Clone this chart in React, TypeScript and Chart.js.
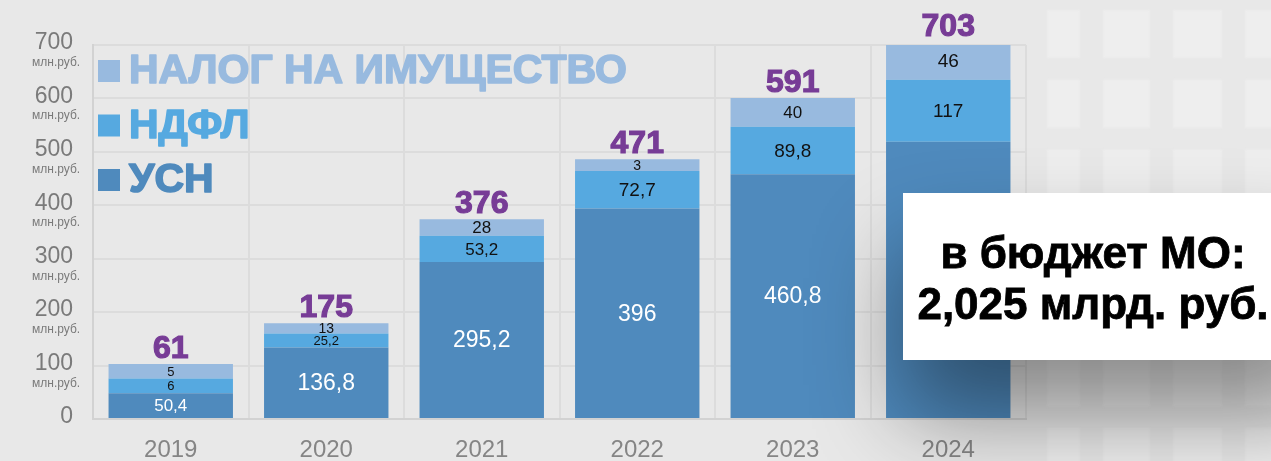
import React, { useEffect, useRef } from "react";
import { Chart, registerables } from "chart.js";

Chart.register(...registerables);

// ---- data ----
const years = ["2019", "2020", "2021", "2022", "2023", "2024"];
// segment heights as drawn in the picture (axis units)
const usnValues = [48, 134, 294, 394, 458, 519];
const ndflValues = [28, 26, 49, 70, 89, 116];
const propertyValues = [27, 19, 31, 22, 54, 71];
// printed labels
const usnLabels = ["50,4", "136,8", "295,2", "396", "460,8", ""];
const ndflLabels = ["6", "25,2", "53,2", "72,7", "89,8", "117"];
const propertyLabels = ["5", "13", "28", "3", "40", "46"];
const totalLabels = ["61", "175", "376", "471", "591", "703"];
const seriesNames = ["УСН", "НДФЛ", "НАЛОГ НА ИМУЩЕСТВО"];
const seriesColors = ["#4f8abd", "#56a9e0", "#98badf"];
const yMin = 0;
const yMax = 700;
const yStep = 100;
const unitLabel = "млн.руб.";
const boxLines = ["в бюджет МО:", "2,025 млрд. руб."];

const PURPLE = "#773c96";
const SANS = '"Liberation Sans", Arial, Helvetica, sans-serif';
const AXISFONT = '"Liberation Sans", Arial, sans-serif';

const backgroundPlugin = {
  id: "bgPattern",
  beforeDraw(chart: any) {
    const { ctx, width, height } = chart;
    ctx.save();
    ctx.fillStyle = "#e8e8e8";
    ctx.fillRect(0, 0, width, height);
    const cols = [
      [1047, 33],
      [1103, 47],
      [1173, 49],
      [1245, 47],
    ];
    ctx.fillStyle = "#eeeeee";
    ctx.filter = "blur(1px)";
    for (let r = 0; r < 7; r++) {
      const top = 10 + r * 69.7;
      for (const [cx, cw] of cols) ctx.fillRect(cx, top, cw, 48);
    }
    ctx.restore();
  },
};

const barLabelsPlugin = {
  id: "barLabels",
  afterDatasetsDraw(chart: any) {
    const ctx = chart.ctx;
    const sets = [usnLabels, ndflLabels, propertyLabels];
    ctx.save();
    ctx.textAlign = "center";
    ctx.textBaseline = "middle";
    sets.forEach((texts, di) => {
      const meta = chart.getDatasetMeta(di);
      meta.data.forEach((el: any, i: number) => {
        const text = texts[i];
        if (!text) return;
        const { x, y, base } = el.getProps(["x", "y", "base"], true);
        const h = Math.abs(base - y);
        let size: number;
        if (di === 0) size = h < 40 ? 17 : 23;
        else size = h < 13 ? 14 : h < 16 ? 13 : h < 30 ? 17 : 19;
        ctx.font = `${size}px ${SANS}`;
        ctx.fillStyle = di === 0 ? "#ffffff" : "#111111";
        ctx.fillText(text, x, (y + base) / 2 + 1);
      });
    });
    const topMeta = chart.getDatasetMeta(2);
    ctx.font = `bold 32px ${SANS}`;
    ctx.fillStyle = PURPLE;
    ctx.strokeStyle = PURPLE;
    ctx.lineWidth = 1.2;
    ctx.textBaseline = "alphabetic";
    topMeta.data.forEach((el: any, i: number) => {
      const { x, y } = el.getProps(["x", "y"], true);
      ctx.fillText(totalLabels[i], x, y - 6);
      ctx.strokeText(totalLabels[i], x, y - 6);
    });
    ctx.restore();
  },
};

const legendPlugin = {
  id: "bigLegend",
  afterDatasetsDraw(chart: any) {
    const { ctx, chartArea } = chart;
    const order = [2, 1, 0];
    ctx.save();
    ctx.font = `bold 41px ${SANS}`;
    ctx.textBaseline = "middle";
    ctx.textAlign = "left";
    ctx.lineWidth = 1.6;
    ctx.lineJoin = "round";
    order.forEach((di, k) => {
      const cy = chartArea.top + 26 + k * 54.5;
      ctx.fillStyle = seriesColors[di];
      ctx.strokeStyle = seriesColors[di];
      ctx.fillRect(chartArea.left + 5, cy - 11, 22, 22);
      ctx.fillText(seriesNames[di], chartArea.left + 36, cy + 1);
      ctx.strokeText(seriesNames[di], chartArea.left + 36, cy + 1);
    });
    ctx.restore();
  },
};

const unitsPlugin = {
  id: "yUnits",
  afterDraw(chart: any) {
    const { ctx } = chart;
    const scale = chart.scales.y;
    ctx.save();
    ctx.font = `12px ${AXISFONT}`;
    ctx.fillStyle = "#7a7a7a";
    ctx.textAlign = "left";
    ctx.textBaseline = "alphabetic";
    scale.ticks.forEach((t: any) => {
      if (t.value <= 0) return;
      const y = scale.getPixelForValue(t.value);
      ctx.fillText(unitLabel, 32, y + 21);
    });
    ctx.restore();
  },
};

const boxPlugin = {
  id: "budgetBox",
  afterDraw(chart: any) {
    const { ctx, width } = chart;
    const left = 903;
    const top = 193;
    const h = 167;
    ctx.save();
    ctx.shadowColor = "rgba(0,0,0,0.42)";
    ctx.shadowBlur = 90;
    ctx.shadowOffsetY = 55;
    ctx.fillStyle = "#ffffff";
    ctx.fillRect(left, top, width - left + 60, h);
    ctx.restore();
    ctx.save();
    ctx.fillStyle = "#ffffff";
    ctx.fillRect(left, top, width - left + 40, h);
    ctx.fillStyle = "#000000";
    ctx.strokeStyle = "#000000";
    ctx.lineWidth = 0.8;
    ctx.font = `bold 44px ${SANS}`;
    ctx.textAlign = "center";
    ctx.textBaseline = "alphabetic";
    ctx.fillText(boxLines[0], 1093, 268);
    ctx.strokeText(boxLines[0], 1093, 268);
    ctx.fillText(boxLines[1], 1093, 319);
    ctx.strokeText(boxLines[1], 1093, 319);
    ctx.restore();
  },
};

export default function App() {
  const ref = useRef<HTMLCanvasElement>(null);
  useEffect(() => {
    const canvas = ref.current!;
    const chart = new Chart(canvas, {
      type: "bar",
      data: {
        labels: years,
        datasets: [
          { label: seriesNames[0], data: usnValues, backgroundColor: seriesColors[0] },
          { label: seriesNames[1], data: ndflValues, backgroundColor: seriesColors[1] },
          { label: seriesNames[2], data: propertyValues, backgroundColor: seriesColors[2] },
        ],
      },
      options: {
        responsive: false,
        animation: false,
        devicePixelRatio: 1,
        layout: { padding: { top: 45, right: 245, left: 0, bottom: 0 } },
        datasets: { bar: { categoryPercentage: 1, barPercentage: 0.8 } },
        plugins: {
          legend: { display: false },
          tooltip: { enabled: false },
        },
        scales: {
          x: {
            stacked: true,
            grid: { color: "#dcdcdc", lineWidth: 2, drawTicks: false, offset: true },
            border: { color: "#d2d2d2", width: 2 },
            ticks: {
              font: { family: "Liberation Sans", size: 24 },
              color: "#858585",
              padding: 17,
            },
            afterFit: (s: any) => {
              s.height = 42;
            },
          },
          y: {
            stacked: true,
            min: yMin,
            max: yMax,
            grid: { color: "#dcdcdc", lineWidth: 2, drawTicks: false },
            border: { color: "#d2d2d2", width: 2 },
            ticks: {
              stepSize: yStep,
              font: { family: "Liberation Sans", size: 23 },
              color: "#7a7a7a",
              padding: 20,
              labelOffset: -2,
            },
            afterFit: (s: any) => {
              s.width = 93;
            },
          },
        },
      },
      plugins: [backgroundPlugin, barLabelsPlugin, legendPlugin, unitsPlugin, boxPlugin],
    } as any);
    return () => chart.destroy();
  }, []);
  return (
    <div
      style={{
        position: "fixed",
        left: 0,
        top: 0,
        width: 1271,
        height: 461,
        overflow: "hidden",
        background: "#e8e8e8",
      }}
    >
      <canvas ref={ref} width={1271} height={461} style={{ display: "block" }} />
    </div>
  );
}
